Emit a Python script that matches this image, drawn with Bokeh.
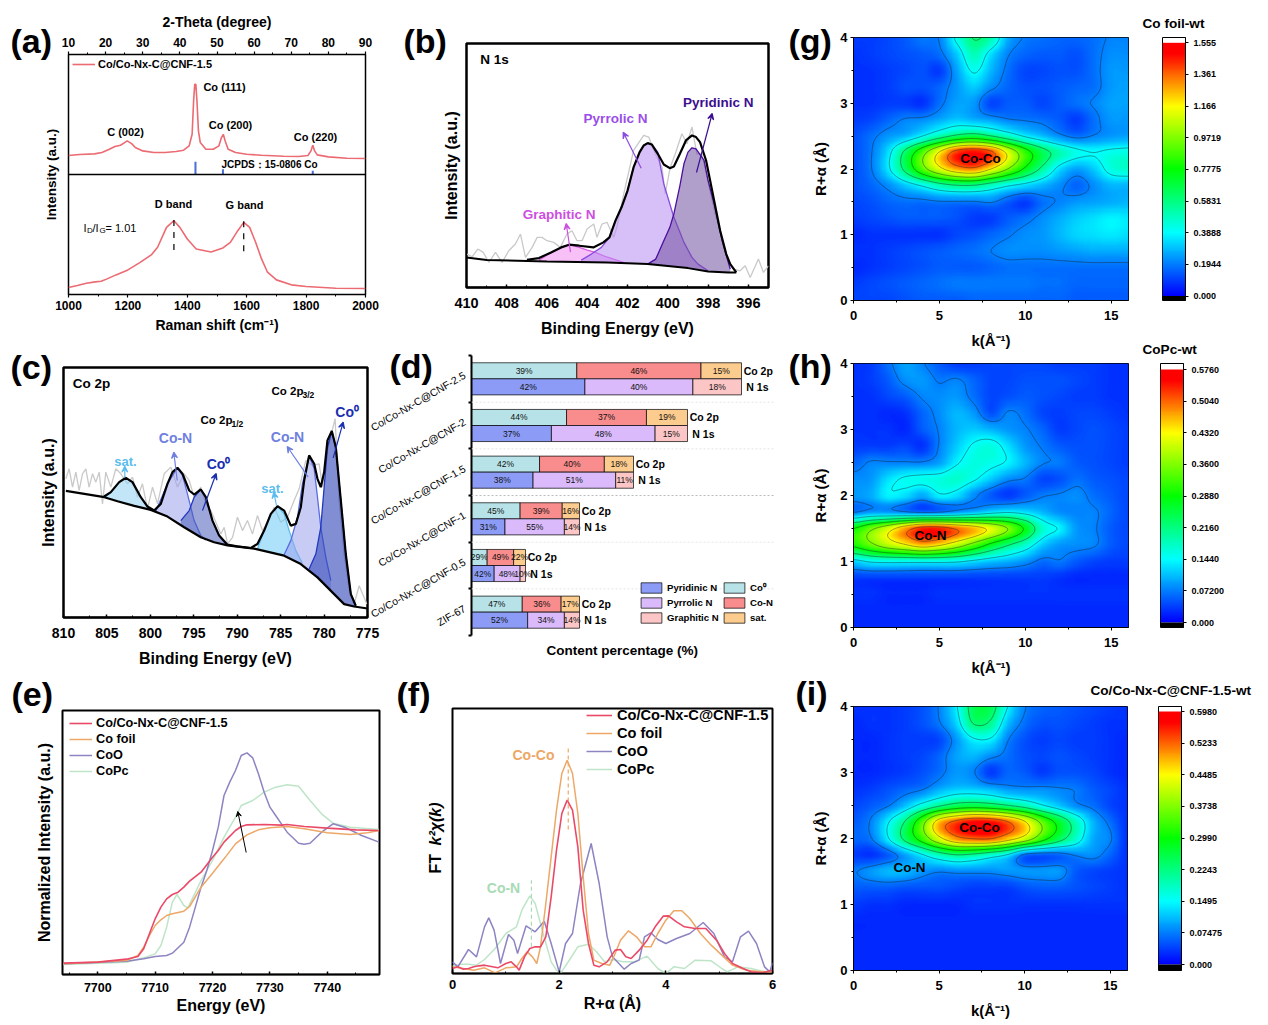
import math
import numpy as np
from bokeh.core.properties import value
from bokeh.embed import file_html
from bokeh.resources import INLINE
from bokeh.plotting import figure
from bokeh.layouts import column, row
from bokeh.models import (Range1d, LinearAxis, FixedTicker, Arrow, VeeHead, Span,
                          Legend, LegendItem, LinearColorMapper)

# ---------- panel (a) ----------
xrd_angle = [10,13,17,19,21,22.5,24,25,25.8,27,28,30,33,36,39,41,42.5,43.3,43.7,44,44.3,44.6,45,45.5,47,49,50.5,51.2,51.7,52.2,53,55,58,62,68,72,74.5,75.3,75.8,76.3,77,80,85,90]
xrd_int = [57,60,62,66,76,84,88,95,101,93,81,71,66,66,69,73,86,121,221,271,271,221,131,96,76,76,86,111,121,101,76,66,61,58,55,54,57,71,88,71,59,53,49,48]
jcpds_angle = [44.2,51.6,75.8]
jcpds_int = [38,16,11]
raman_shift = [1000,1030,1060,1090,1110,1130,1160,1200,1240,1280,1300,1330,1355,1375,1400,1430,1480,1520,1545,1570,1590,1610,1630,1650,1670,1700,1750,1800,1900,2000]
raman_int = [21,27,34,38,40,47,59,74,96,120,142,202,222,202,167,137,128,140,157,192,217,202,157,107,67,44,29,24,19,18]

# ---------- panel (b) ----------
n_noise_x = [409.97,409.72,409.44,409.17,408.89,408.56,408.23,407.9,407.57,407.32,407.07,406.74,406.49,406.25,406.0,405.67,405.34,405.01,404.76,404.51,404.26,404.01,403.68,403.52,403.27,403.02,402.69,402.53,402.19,401.7,401.2,400.95,400.62,400.29,400.13,399.88,399.63,399.3,399.05,398.8,398.56,398.31,397.98,397.65,397.32,396.99,396.74,396.41,396.16,395.91,395.5,395.25,395.0]
n_noise_y = [100,92,115,105,75,105,75,110,130,160,90,120,150,150,140,135,120,160,170,140,140,175,190,150,190,195,150,180,280,410,455,450,400,360,280,360,400,460,430,480,400,400,310,220,150,80,55,50,65,30,85,45,65]
n_base_x = [410,409,406,403,401,399,398,397,396.6]
n_base_y = [90,82,78,75,70,58,48,45,45]
n_env_x = [407,406.4,405.8,405.3,404.9,404.4,403.7,403.2,402.9,402.6,402.3,402,401.7,401.4,401.2,401,400.8,400.5,400.2,399.9,399.7,399.4,399.1,398.8,398.6,398.4,398.1,397.9,397.6,397.4,397.1,396.9,396.6]
n_env_y = [83,88,105,120,128,125,120,135,150,200,240,290,360,405,425,432,428,400,368,357,362,400,440,455,450,435,380,320,230,170,100,70,45]
pyridinic_x = [401,400.6,400.2,399.9,399.7,399.4,399.2,399,398.8,398.6,398.2,398,397.7,397.3,396.9]
pyridinic_y = [70,85,140,180,220,305,370,405,418,415,380,320,250,140,55]
pyrrolic_x = [404.3,403.8,403.3,402.9,402.6,402.3,402,401.7,401.4,401.2,401,400.8,400.5,400.2,399.9,399.7,399.4,399.2,398.8,398.5,398]
pyrrolic_y = [82,100,120,150,200,240,290,360,405,425,432,428,405,310,250,210,165,135,90,70,50]
graphitic_x = [406.4,405.8,405.3,404.9,404.4,404,403.6,403.2,402.7,402.2]
graphitic_y = [82,105,120,128,120,112,105,95,85,75]

# ---------- panel (c) ----------
co_noise_x = [809.73,809.35,808.96,808.58,808.2,807.81,807.43,807.05,806.66,806.28,805.89,805.51,805.13,804.55,803.98,803.4,802.63,802.06,801.48,800.91,800.33,799.75,799.18,798.41,797.64,796.88,796.11,795.53,794.96,794.19,793.61,793.04,792.46,791.89,791.5,791.12,790.54,789.97,789.39,788.82,788.24,787.67,787.09,786.52,785.75,784.98,784.21,783.45,782.87,782.1,781.34,780.57,780.18,779.61,778.73,778.27,777.69,777.11,776.54,775.96,775.39,775.08]
co_noise_y = [415,445,390,435,380,430,445,390,430,405,435,340,435,390,445,430,400,420,360,400,325,390,340,430,450,390,430,410,360,390,340,320,285,250,270,220,240,300,260,290,250,305,260,285,330,285,300,350,385,470,455,460,390,500,595,350,190,85,40,95,60,40]
co_base_x = [809.73,807.6,805.3,803.78,801.86,799.95,798.03,796.11,794.19,792.66,791.12,788.05,784.6,782.68,780.76,778.84,777.69,776.54,775]
co_base_y = [379,370,360,348,334,322,302,270,240,225,216,206,185,160,120,70,40,33,27]
co_env_x = [805.32,804.55,803.59,802.82,802.06,801.1,800.33,799.56,798.8,798.03,797.45,796.88,796.3,795.53,794.96,794.19,793.61,792.85,792.08,791.12,790,788.43,787.67,786.9,786.13,785.36,784.6,783.83,783.25,782.68,782.29,781.72,781.14,780.76,780.38,779.99,779.61,779.11,778.65,778.07,777.5,776.92,776.35]
co_env_y = [362,375,405,418,405,360,332,320,340,400,435,448,430,380,368,383,360,290,245,218,213,208,220,260,310,333,320,275,280,330,410,485,460,415,390,435,530,558,510,350,190,70,35]
sat1_x = [805.13,804.55,803.59,802.82,802.06,801.1,800.14]
sat1_y = [362,375,405,418,405,360,325]
con1_x = [799.37,798.03,796.88,796.3,795.73,794.96,794.19,793.61]
con1_y = [318,400,448,425,370,290,245,232]
co01_x = [796.49,795.53,794.96,794.19,793.61,792.85,792.08,791.31]
co01_y = [290,320,360,383,360,290,245,220]
sat2_x = [787.67,786.9,786.13,785.36,784.6,784.02,783.25,782.49]
sat2_y = [205,260,310,333,310,260,200,162]
con2_x = [784.6,783.83,783.06,782.49,781.72,781.14,780.76,780.38,779.8,779.22]
con2_y = [188,230,300,400,485,445,360,270,180,110]
co02_x = [781.72,780.95,780.38,779.99,779.61,779.11,778.65,778.07,777.5,776.92,776.35]
co02_y = [145,190,270,390,510,558,510,350,190,70,35]

# ---------- panel (d) ----------
samples = ["Co/Co-Nx-C@CNF-2.5","Co/Co-Nx-C@CNF-2","Co/Co-Nx-C@CNF-1.5","Co/Co-Nx-C@CNF-1","Co/Co-Nx-C@CNF-0.5","ZIF-67"]
total_scale = [5,4,3,2,1,2]
co0_pct = [39,44,42,45,29,47]
con_pct = [46,37,40,39,49,36]
sat_pct = [15,19,18,16,22,17]
pyridinic_pct = [42,37,38,31,42,52]
pyrrolic_pct = [40,48,51,55,48,34]
graphitic_pct = [18,15,11,14,10,14]

# ---------- panel (e) ----------
e_red_x = [7694,7700,7705,7707,7708,7709,7710,7711,7712,7713,7714,7715,7716,7718,7720,7721,7722,7724,7725,7726,7729,7732,7733,7736,7740,7745,7749]
e_red_y = [34,37,46,54,77,122,167,202,227,240,247,262,280,307,352,372,397,432,444,449,450,448,450,444,439,434,432]
e_or_x = [7694,7705,7707,7708,7709,7710,7711,7712,7713,7715,7716,7718,7720,7722,7724,7726,7728,7730,7733,7736,7740,7744,7747,7749]
e_or_y = [32,42,57,82,117,147,164,177,182,190,204,262,304,347,392,419,434,440,444,437,425,420,425,432]
e_pu_x = [7694,7705,7708,7710,7712,7713,7715,7716,7717,7718,7719,7720,7721,7722,7723,7724,7725,7726,7727,7728,7729,7730,7731,7733,7735,7736,7737,7739,7741,7743,7746,7749]
e_pu_y = [32,40,47,54,57,64,97,142,202,262,312,372,442,537,577,612,657,665,650,602,547,502,477,427,394,391,394,427,452,442,417,397]
e_gr_x = [7694,7705,7708,7710,7711,7712,7713,7713.8,7715,7715.7,7718,7720,7722,7724,7725,7727,7729,7731,7733,7735,7737,7739,7741,7744,7749]
e_gr_y = [30,37,50,62,87,142,217,240,207,200,282,342,412,472,507,522,547,562,569,565,522,482,454,442,435]

# ---------- panel (f) ----------
f_red_x = [0,.1,.2,.3,.4,.5,.6,.7,.85,1.0,1.1,1.2,1.25,1.35,1.45,1.55,1.65,1.75,1.85,1.95,2.05,2.15,2.25,2.35,2.45,2.55,2.65,2.75,2.9,3.05,3.15,3.25,3.35,3.5,3.65,3.8,3.95,4.05,4.2,4.35,4.55,4.75,4.95,5.1,5.25,5.45,5.6,5.8,6]
f_red_y = [15,20,13,15,20,23,25,22,17,30,35,20,10,50,75,80,80,110,230,370,480,520,490,380,190,90,25,20,35,70,72,50,45,70,100,140,172,173,155,140,135,135,100,60,30,15,5,2,10]
f_or_x = [0,.2,.4,.6,.8,1,1.2,1.3,1.4,1.5,1.58,1.65,1.75,1.85,1.95,2.05,2.15,2.25,2.35,2.45,2.55,2.65,2.8,2.95,3.05,3.15,3.3,3.45,3.6,3.72,3.85,4.0,4.15,4.3,4.45,4.65,4.85,5.05,5.25,5.5,5.7,6]
f_or_y = [20,15,10,17,2,17,20,45,65,50,30,80,210,350,490,600,640,600,480,290,120,40,30,25,60,100,128,110,80,80,120,160,188,188,165,120,85,55,25,10,7,3]
f_pu_x = [0,.1,.3,.45,.6,.68,.78,.9,1.05,1.15,1.22,1.38,1.55,1.72,1.85,2.0,2.12,2.25,2.4,2.6,2.75,2.9,3.0,3.15,3.22,3.35,3.5,3.6,3.72,3.85,4.0,4.2,4.45,4.7,4.9,5.1,5.25,5.4,5.55,5.7,5.85,5.95,6.0]
f_pu_y = [35,20,72,50,140,167,130,30,117,100,60,143,125,157,90,5,90,120,270,390,270,110,50,25,13,30,40,110,122,102,90,105,120,153,120,50,35,110,127,90,20,5,32]
f_gr_x = [0,.15,.3,.45,.6,.8,1,1.2,1.3,1.45,1.55,1.7,1.85,1.95,2.03,2.15,2.35,2.55,2.7,2.85,3.0,3.2,3.4,3.65,3.85,4.0,4.15,4.35,4.55,4.85,5.05,5.15,5.35,5.6,5.8,6]
f_gr_y = [22,28,28,25,42,75,120,140,190,233,210,120,35,10,2,30,80,88,65,35,42,35,35,52,15,0,20,15,40,38,15,5,20,15,7,5]

# ---------- wavelet maps: percent of colour-bar maximum, read at k = 0..16, R = 4.0 down to 0 in 0.25 steps ----------
map_g = [
[6,6,7,9,12,13,27,38,33,17,12,11,10,10,11,13,13],
[5,6,7,8,9,11,20,32,22,13,10,9,9,8,11,14,14],
[5,5,6,7,8,6,16,26,18,11,7,7,8,8,11,15,15],
[5,5,6,8,8,10,15,20,14,10,8,8,9,10,11,15,16],
[5,5,6,6,5,11,16,15,7,9,9,7,9,11,13,16,16],
[6,7,10,13,14,17,20,18,16,13,12,11,9,6,11,15,15],
[8,11,15,18,25,33,40,43,38,31,24,19,14,11,13,15,16],
[8,12,22,40,58,76,92,96,90,72,55,42,33,27,25,27,28],
[8,12,23,40,58,72,82,85,75,62,48,35,22,16,20,28,30],
[8,10,14,20,26,33,37,37,32,26,22,18,14,10,14,18,18],
[7,8,10,11,11,12,12,12,13,9,6,11,13,15,16,17,18],
[6,7,8,9,9,9,8,6,6,9,11,14,17,20,22,24,23],
[4,5,5,5,5,5,7,8,10,12,14,15,18,21,22,23,22],
[5,5,6,7,8,9,10,11,12.5,14,14,14,15,16,17,17,17],
[4,5,6,7,8,9,9,9,10,11,11,11,11,11,11,11,11],
[6,7,8,9,10,11,12,12,12,12,12,11,11,10,10,10,10],
[7,7,7,8,9,9,9,10,10,10,10,10,10,9,9,9,9]]
map_h = [
[5,6,11,16,13,9,6,6,7,7,7,7,6,6,6,5,5],
[5,6,9,14,15,12,13,10,7,7,8,8,8,7,6,5,5],
[5,5,7,9,13,14,15,11,7,8,9,8,7,6,6,5,5],
[5,5,4,5,10,14,18,15,8,13,11,7,6,7,7,6,5],
[5,5,5,4,9,13,18,20,18,15,13,10,6,7,8,7,6],
[6,6,6,7,5,13,20,26,28,22,15,12,9,8,8,7,6],
[10,13,13,13,13,16,24,28,27,24,18,13,12,9,8,7,6],
[14,15,22,26,27,28,30,26,20,14,12,7,8,11,9,8,7],
[15,17,24,22,17,24,22,14,9,6,9,12,13,14,11,9,7],
[12,15,15,13,11,12,15,18,22,24,22,18,14,13,13,10,7],
[50,60,70,82,92,92,86,80,72,62,48,30,24,15,13,9,7],
[52,60,68,74,80,76,68,58,47,38,30,20,15,14,13,9,7],
[22,26,27,27,27,27,26,23,20,18,15,11,12,9,7,6,6],
[6,6,6,6,6,6,6,6,6,6,6,6,5,4,4,4,4],
[5,5,4,4,4,5,5,5,5,5,5,5,5,5,5,5,5],
[4,4,4,4,4,4,4,4,4,4,4,4,4,4,4,4,4],
[4,4,4,4,4,4,4,4,4,4,4,4,4,4,4,4,4]]
map_i = [
[5,5,5,6,8,13,24,42,42,25,13,10,9,8,7,6,5],
[4,5,5,6,8,12,21,38,36,19,11,8,8,7,6,5,5],
[4,4,5,6,6,7,15,24,24,13,8,6,7,6,6,5,4],
[4,4,5,6,7,10,16,18,14,11,8,7,8,7,6,5,4],
[4,4,5,6,8,11,15,13,6,10,9,6,8,8,7,5,4],
[5,6,8,10,12,17,20,20,18,15,14,14,13,12,9,7,5],
[7,9,12,19,28,36,42,44,42,38,33,26,20,14,11,7,5],
[9,13,24,38,58,80,90,96,95,88,76,60,46,32,18,11,5],
[10,12,24,40,55,72,84,88,88,80,70,55,42,30,17,13,5],
[6,5,9,16,24,32,37,35,30,24,11,9,10,13,14,10,5],
[12,15,18,18,15,13,14,14,14,15,15,15,15,9,7,6,5],
[9,9,9,8,8,8,7,6,6,6,8,9,9,8,7,6,5],
[6,5,5,4,4,4,4,5,5,5,5,5,5,5,5,5,5],
[4,4,4,4,4,4,4,4,4,4,4,4,4,4,4,4,4],
[4,4,4,4,4,4,4,4,4,4,4,4,4,4,4,4,4],
[4,4,4,4,4,4,4,4,4,4,4,4,4,4,4,4,4],
[4,4,4,4,4,4,4,4,4,4,4,4,4,4,4,4,4]]
contour_levels = [12.5,25,37.5,50,62.5,75,87.5]
cb_g_ticks = [0,.1944,.3888,.5831,.7775,.9719,1.166,1.361,1.555]
cb_g_labels = ["0.000","0.1944","0.3888","0.5831","0.7775","0.9719","1.166","1.361","1.555"]
cb_h_ticks = [0,.072,.144,.216,.288,.36,.432,.504,.576]
cb_h_labels = ["0.000","0.07200","0.1440","0.2160","0.2880","0.3600","0.4320","0.5040","0.5760"]
cb_i_ticks = [0,.07475,.1495,.2243,.299,.3738,.4485,.5233,.598]
cb_i_labels = ["0.000","0.07475","0.1495","0.2243","0.2990","0.3738","0.4485","0.5233","0.5980"]

FONT = "Liberation Sans"
FR = {}
cells = []


def place(p, x0, y0):
    # each figure sits in its own absolutely placed row, so no frames get aligned across panels
    cells.append(row(p, styles={"position": "absolute", "left": f"{x0}px", "top": f"{y0}px"}))


def fig(box, frame, xr, yr, **kw):
    x0, y0, x1, y1 = box
    l, t, r, b = frame
    p = figure(width=x1 - x0, height=y1 - y0, frame_width=r - l, frame_height=b - t,
               min_border_left=l - x0, min_border_right=x1 - r, min_border_top=t - y0, min_border_bottom=y1 - b,
               x_range=xr, y_range=yr, output_backend="svg", toolbar_location=None, **kw)
    place(p, x0, y0)
    p.border_fill_color = None
    p.grid.visible = False
    p.outline_line_color = "black"
    FR[id(p)] = frame
    return p


# transparent page-sized layer in page pixels, for panel letters, titles and callouts
overlay = figure(width=1252, height=1009, x_range=Range1d(8, 1260), y_range=Range1d(1017, 8), min_border=0,
                 output_backend="svg", toolbar_location=None)
overlay.axis.visible = False
overlay.grid.visible = False
overlay.outline_line_color = None
overlay.border_fill_color = None
overlay.background_fill_color = None


def note(px, py, text, size=13, color="black", style="bold", align="center", angle=0, font=FONT):
    overlay.text(x=[px], y=[py], text=[text], text_font=value(font), text_font_size=value(f"{size}px"),
                 text_font_style=style, text_color=color, text_align=align, text_baseline="middle", angle=angle)


def arrow(a, b_, color, width=1.2, size=6):
    overlay.add_layout(Arrow(end=VeeHead(size=size, line_color=color, line_width=width, fill_color=color),
                             x_start=a[0], y_start=a[1], x_end=b_[0], y_end=b_[1], line_color=color, line_width=width))


def axis_style(ax, size, ticks=None, minor=None, label=None, label_size=16, standoff=6, tick_in=3, tick_out=0,
               width=1.5, label_standoff=3):
    ax.major_label_text_font = FONT
    ax.major_label_text_font_style = "bold"
    ax.major_label_text_font_size = f"{size}px"
    ax.major_label_text_color = "black"
    ax.major_label_standoff = label_standoff
    ax.axis_line_color = "black"
    ax.axis_line_width = width
    ax.major_tick_line_color = "black"
    ax.minor_tick_line_color = "black"
    ax.major_tick_line_width = width
    ax.minor_tick_line_width = 1
    ax.major_tick_in = tick_in
    ax.major_tick_out = tick_out
    ax.minor_tick_in = max(tick_in - 1, 0)
    ax.minor_tick_out = max(tick_out - 1, 0)
    ax.ticker = FixedTicker(ticks=ticks or [], minor_ticks=minor or [])
    if label is not None:
        ax.axis_label = label
        ax.axis_label_text_font = FONT
        ax.axis_label_text_font_style = "bold"
        ax.axis_label_text_font_size = f"{label_size}px"
        ax.axis_label_text_color = "black"
        ax.axis_label_standoff = standoff


def legend(p, items, px, py_bottom, size, glyph_w, spacing=2, standoff=5, gh=14):
    l, t, r, b = FR[id(p)]
    lg = Legend(items=[LegendItem(label=k, renderers=[v]) for k, v in items],
                location=(px - l, b - py_bottom), background_fill_alpha=0, border_line_alpha=0,
                padding=0, margin=0, spacing=spacing, glyph_width=glyph_w, glyph_height=gh, label_height=gh,
                label_standoff=standoff, label_text_font=FONT, label_text_font_size=f"{size}px",
                label_text_font_style="bold", label_text_color="black", label_text_line_height=1.0)
    p.add_layout(lg)


def filled(p, xs, ys, bx, by, fill, line, alpha=0.55, lw=1.3):
    order = np.argsort(bx)
    base = np.interp(xs, np.array(bx)[order], np.array(by)[order])
    p.varea(x=xs, y1=base, y2=ys, fill_color=fill, fill_alpha=alpha)
    p.line(xs, ys, line_color=line, line_width=lw)


# ---------- (a) ----------
pa = fig((8, 8, 390, 338), (68, 54, 365, 294), Range1d(1000, 2000), Range1d(0, 722),
         extra_x_ranges={"xrd": Range1d(10, 90)}, extra_y_ranges={"xrd": Range1d(-361, 361)})
pa.outline_line_width = 1.5
red_a = "#ec6a72"
xrd_line = pa.line(xrd_angle, xrd_int, x_range_name="xrd", y_range_name="xrd", line_color=red_a, line_width=1.6)
pa.vbar(x=jcpds_angle, width=0.55, bottom=0, top=jcpds_int, x_range_name="xrd", y_range_name="xrd",
        fill_color="#4a6fd6", line_color=None)
pa.line(raman_shift, raman_int, line_color=red_a, line_width=1.6)
pa.add_layout(Span(location=361, dimension="width", line_color="black", line_width=1.5))
pa.line([1355, 1355], [134, 240], line_color="black", line_width=1.2, line_dash="6 6")
pa.line([1590, 1590], [130, 237], line_color="black", line_width=1.2, line_dash="6 6")
top_axis = LinearAxis(x_range_name="xrd")
pa.add_layout(top_axis, "above")
axis_style(top_axis, 12, list(range(10, 91, 10)), list(range(15, 90, 10)), "2-Theta (degree)", 14, 5, 0, 3, 1.2, label_standoff=5)
axis_style(pa.below[0], 12, list(range(1000, 2001, 200)), list(range(1100, 2000, 200)), "Raman shift (cm⁻¹)", 14, 4, 0, 3, 1.2)
axis_style(pa.left[0], 12, [], [], "Intensity (a.u.)", 13.5, 10, 0, 0, 0)
legend(pa, [("Co/Co-Nx-C@CNF-1.5", xrd_line)], 72, 71, 11, 23, spacing=0, standoff=3)
note(10, 40, "(a)", 34, align="left")
note(224, 86, "Co (111)", 11)
note(230, 124, "Co (200)", 11)
note(125, 131, "C (002)", 11)
note(315, 136, "Co (220)", 11)
note(269, 163.5, "JCPDS：15-0806 Co", 10)
note(173, 203, "D band", 11)
note(244, 204, "G band", 11)
note(83, 227, "I", 11, align="left", style="normal")
note(86.5, 230, "D", 8, align="left", style="normal")
note(92, 227, "/I", 11, align="left", style="normal")
note(99, 230, "G", 8, align="left", style="normal")
note(105, 227, "= 1.01", 11, align="left", style="normal")

# ---------- (b) ----------
pb = fig((395, 8, 785, 338), (466, 43, 768, 287), Range1d(410, 395), Range1d(0, 730))
pb.outline_line_width = 2.5
axis_style(pb.below[0], 14.5, list(range(396, 411, 2)), list(range(397, 410, 2)), "Binding Energy (eV)", 16, 9, 3, 0, 1.5, label_standoff=10)
axis_style(pb.left[0], 12, [], [], "Intensity (a.u.)", 16, 7, 0, 0, 0)
pb.line(n_noise_x, n_noise_y, line_color="#c9c9c9", line_width=1.3)
filled(pb, graphitic_x, graphitic_y, n_base_x, n_base_y, "#f08cf0", "#d85de0")
filled(pb, pyrrolic_x, pyrrolic_y, n_base_x, n_base_y, "#b78af0", "#8a4be0")
filled(pb, pyridinic_x, pyridinic_y, n_base_x, n_base_y, "#6f4ea0", "#4b0f9e")
pb.line(n_base_x, n_base_y, line_color="black", line_width=2)
pb.line(n_env_x, n_env_y, line_color="black", line_width=2.2)
arrow((696, 172), (711.7, 113), "#3b0f8f")
arrow((640.7, 167.7), (622.7, 131.7), "#8a4be0")
arrow((570, 251.7), (565.7, 223), "#cc4fe0")
note(403, 40, "(b)", 34, align="left")
note(494, 59, "N 1s", 13.5)
note(717.7, 102, "Pyridinic N", 13.5, "#3b0f8f")
note(615, 118, "Pyrrolic N", 13.5, "#9a4ee8")
note(558.7, 214, "Graphitic N", 13.5, "#cc4fe0")

# ---------- (c) ----------
pc = fig((8, 338, 390, 668), (63, 367, 367, 617), Range1d(810, 775), Range1d(0, 748))
pc.outline_line_width = 2.5
axis_style(pc.below[0], 14, list(range(775, 811, 5)), list(range(777, 810, 5)), "Binding Energy (eV)", 16, 9, 3, 0, 1.5, label_standoff=10)
axis_style(pc.left[0], 12, [], [], "Intensity (a.u.)", 16, 7, 0, 0, 0)
pc.line(co_noise_x, co_noise_y, line_color="#c9c9c9", line_width=1.3)
filled(pc, sat1_x, sat1_y, co_base_x, co_base_y, "#8fd2f2", "#5dbcee")
filled(pc, con1_x, con1_y, co_base_x, co_base_y, "#9aa3ec", "#5a6de0")
filled(pc, co01_x, co01_y, co_base_x, co_base_y, "#4a5cb8", "#2238c0")
filled(pc, sat2_x, sat2_y, co_base_x, co_base_y, "#6cc8f5", "#5dbcee")
filled(pc, con2_x, con2_y, co_base_x, co_base_y, "#9aa3ec", "#5a6de0")
filled(pc, co02_x, co02_y, co_base_x, co_base_y, "#2f42b8", "#2238c0", 0.6)
pc.line(co_base_x, co_base_y, line_color="black", line_width=2.2)
pc.line(co_env_x, co_env_y, line_color="black", line_width=2.2)
arrow((332.7, 457.3), (342.7, 421.7), "#1a2fb0")
arrow((307.7, 476.7), (286.7, 446), "#6f80e0")
arrow((276, 505), (273.3, 491.7), "#5dbcee")
arrow((202, 510), (215.7, 473), "#1a2fb0")
arrow((176.7, 480), (173.3, 451.7), "#6f80e0")
arrow((124.3, 477.3), (124.3, 465.7), "#5dbcee")
note(10, 366, "(c)", 34, align="left")
note(91, 383, "Co 2p", 13.5)
note(271, 390, "Co 2p", 11.5, align="left")
note(302, 394, "3/2", 8.5, align="left")
note(200, 419, "Co 2p", 11.5, align="left")
note(231, 423, "1/2", 8.5, align="left")
note(346.7, 411, "Co⁰", 14, "#1a2fb0")
note(287, 436, "Co-N", 14, "#6f80e0")
note(272, 488, "sat.", 13, "#5dbcee")
note(218, 463, "Co⁰", 14, "#1a2fb0")
note(175, 437, "Co-N", 14, "#6f80e0")
note(125, 460.7, "sat.", 13, "#5dbcee")

# ---------- (d) ----------
unit_px = 54.0
pd_ = fig((340, 338, 785, 668), (471, 355, 775, 635), Range1d(0, 304 / unit_px * 100), Range1d(0, 6))
pd_.outline_line_color = None
pd_.xaxis.visible = False
yax = pd_.left[0]
sample_ticks = [5.6, 4.6, 3.6, 2.6, 1.6, 0.6]
axis_style(yax, 10.5, sample_ticks, list(range(7)), None, tick_in=0, tick_out=0, width=2)
yax.major_label_text_font_style = "normal"
yax.major_tick_line_color = None
yax.minor_tick_line_width = 2
yax.minor_tick_out = 3
yax.major_label_orientation = math.radians(30)
yax.major_label_overrides = dict(zip(sample_ticks, samples))
yax.major_label_standoff = 4
for i in range(1, 6):
    pd_.add_layout(Span(location=i, dimension="width", line_color="#e3e3e3" if i != 3 else "#bbbbbb",
                        line_width=1, line_dash="2 2"))

bar_h = 0.344
centres = np.array([5.5 - i for i in range(6)])
scale = np.array(total_scale)
tag = {"Co0": "Co 2p", "Pyridinic N": "N 1s"}
def stack(series, y, colors, names, side):
    left = np.zeros(6)
    rs = {}
    for vals, col, name in zip(series, colors, names):
        right = left + np.array(vals) * scale
        r = pd_.hbar(y=y, left=left, right=right, height=bar_h, fill_color=col, line_color="black", line_width=0.7)
        rs[name] = r
        left = right
        pd_.text(x=right - np.array(vals) * scale / 2, y=y, text=[f"{v}%" for v in vals], text_align="center",
                 text_baseline="middle", text_font_size="8.5px", text_color="#111111")
    pd_.text(x=left + side, y=y, text=[tag[names[0]]] * 6, text_align="left", text_baseline="middle",
             text_font_size="10.5px", text_font_style="bold", text_color="black")
    return rs
co_r = stack([co0_pct, con_pct, sat_pct], centres + bar_h / 2, ["#b7e3e8", "#f98c8c", "#fccb8e"], ["Co0", "Co-N", "sat."], 4)
n_r = stack([pyridinic_pct, pyrrolic_pct, graphitic_pct], centres - bar_h / 2, ["#8c9cf6", "#dabafa", "#fcc6c6"],
            ["Pyridinic N", "Pyrrolic N", "Graphitic N"], 9)
legend(pd_, [(k, n_r[k]) for k in ["Pyridinic N", "Pyrrolic N", "Graphitic N"]], 638, 624, 9.6, 26, spacing=2, standoff=3, gh=13)
legend(pd_, [("Co⁰", co_r["Co0"]), ("Co-N", co_r["Co-N"]), ("sat.", co_r["sat."])], 721, 624, 9.6, 26, spacing=2, standoff=3, gh=13)
note(389, 365, "(d)", 34, align="left")
note(621.7, 650, "Content percentage (%)", 13.5)

# ---------- (e) ----------
pe = fig((8, 668, 390, 1017), (62, 710, 379, 974), Range1d(7693.85, 7749.1), Range1d(0, 792))
pe.outline_line_width = 2
axis_style(pe.below[0], 12.5, [7700, 7710, 7720, 7730, 7740], [7695, 7705, 7715, 7725, 7735, 7745], "Energy (eV)", 16, 2, 3, 0, 1.5, label_standoff=8)
axis_style(pe.left[0], 12, [], [], "Normalized Intensity (a.u.)", 16, 10, 0, 0, 0)
C_RED, C_OR, C_PU, C_GR = "#ea4a68", "#eda766", "#8d84c2", "#bfe5c8"
e_g = pe.line(e_gr_x, e_gr_y, line_color=C_GR, line_width=1.5)
e_p = pe.line(e_pu_x, e_pu_y, line_color=C_PU, line_width=1.5)
e_o = pe.line(e_or_x, e_or_y, line_color=C_OR, line_width=1.5)
e_r = pe.line(e_red_x, e_red_y, line_color=C_RED, line_width=1.6)
arrow((245.7, 852), (237.3, 811), "black", 1, 5)
legend(pe, [("Co/Co-Nx-C@CNF-1.5", e_r), ("Co foil", e_o), ("CoO", e_p), ("CoPc", e_g)], 69, 778, 12.7, 23, spacing=2, standoff=4, gh=14)
note(11, 693, "(e)", 34, align="left")

# ---------- (f) ----------
pf = fig((395, 668, 785, 1017), (452, 708, 772, 973), Range1d(0, 6), Range1d(0, 795))
pf.outline_line_width = 2
axis_style(pf.below[0], 13, [0, 2, 4, 6], [1, 3, 5], "R+α (Å)", 16, 3, 3, 0, 1.5, label_standoff=6)
axis_style(pf.left[0], 12, [], [], None, tick_in=0, tick_out=0, width=0)
f_g = pf.line(f_gr_x, f_gr_y, line_color=C_GR, line_width=1.5)
f_p = pf.line(f_pu_x, f_pu_y, line_color=C_PU, line_width=1.5)
f_o = pf.line(f_or_x, f_or_y, line_color=C_OR, line_width=1.5)
f_r = pf.line(f_red_x, f_red_y, line_color=C_RED, line_width=1.6)
pf.line([2.17, 2.17], [432, 682], line_color=C_OR, line_width=1.2, line_dash="4 3")
pf.line([1.48, 1.48], [80, 280], line_color="#a8dbb5", line_width=1.2, line_dash="4 3")
legend(pf, [("Co/Co-Nx-C@CNF-1.5", f_r), ("Co foil", f_o), ("CoO", f_p), ("CoPc", f_g)], 586, 777, 14.6, 26, spacing=2, standoff=5, gh=14)
note(396, 693, "(f)", 34, align="left")
note(533, 754, "Co-Co", 14, C_OR)
note(503, 887, "Co-N", 14, "#a8dbb5")
note(435, 873, "FT", 16, align="left", angle=math.pi / 2)
note(435, 845, "k²χ(k)", 16, align="left", angle=math.pi / 2, style="bold italic")

# ---------- wavelet maps ----------
stops = [(0, (0, 0, 255)), (.25, (0, 255, 255)), (.5, (0, 255, 0)), (.75, (255, 255, 0)), (.96, (255, 0, 0)), (1, (255, 0, 0))]
palette = []
for i in range(256):
    t = i / 255
    for (t0, c0), (t1, c1) in zip(stops, stops[1:]):
        if t <= t1:
            f_ = (t - t0) / (t1 - t0)
            palette.append("#%02x%02x%02x" % tuple(int(a + (b - a) * f_) for a, b in zip(c0, c1)))
            break
mapper = LinearColorMapper(palette=palette, low=0, high=100)


def resample(a, n):
    # Cubic resampling of the hand-read grid, for a smooth drawing of the same field.
    a = np.asarray(a, float)
    m = a.shape[0]
    pos = np.linspace(0, m - 1, n)
    i = np.clip(np.floor(pos).astype(int), 0, m - 2)
    t = (pos - i)[:, None]
    p0 = a[np.clip(i - 1, 0, m - 1)]
    p1 = a[i]
    p2 = a[i + 1]
    p3 = a[np.clip(i + 2, 0, m - 1)]
    return 0.5 * (2 * p1 + (p2 - p0) * t + (2 * p0 - 5 * p1 + 4 * p2 - p3) * t ** 2 + (3 * p1 - p0 - 3 * p2 + p3) * t ** 3)


def wavelet(box, frame, grid):
    p = fig(box, frame, Range1d(0, 16), Range1d(0, 4))
    p.outline_line_width = 1
    z = np.array(grid, float)[::-1]
    z = resample(resample(z, 241).T, 321).T
    z = np.clip(z, 0.5, 100)
    p.image(image=[z], x=0, y=0, dw=16, dh=4, color_mapper=mapper)
    xs = np.linspace(0, 16, z.shape[1])
    ys = np.linspace(0, 4, z.shape[0])
    p.contour(xs, ys, z, contour_levels, line_color="#222222", line_width=0.6, line_alpha=0.75)
    axis_style(p.below[0], 13, [0, 5, 10, 15], [2.5, 7.5, 12.5], "k(Å⁻¹)", 15, 9, 0, 3, 1, label_standoff=7)
    axis_style(p.left[0], 13, [0, 1, 2, 3, 4], [.5, 1.5, 2.5, 3.5], "R+α (Å)", 15, 8, 0, 3, 1)
    return p


def cbar(box, frame, y0_px, ymax_px, ticks, labels, title, tx, ty):
    l, t, r, b = frame
    vmax = ticks[-1]
    per = vmax / (y0_px - ymax_px)
    lo = -(b - y0_px) * per
    hi = vmax + (ymax_px - t) * per
    p = fig(box, frame, Range1d(0, 1), Range1d(lo, hi))
    p.outline_line_width = 1
    p.xaxis.visible = False
    p.left[0].visible = False
    grad = np.linspace(0, 100, 256)[:, None]
    p.image(image=[grad], x=0, y=0, dw=1, dh=vmax, color_mapper=mapper)
    p.quad(left=0, right=1, bottom=lo, top=0, fill_color="black", line_color=None)
    ax = LinearAxis()
    p.add_layout(ax, "right")
    axis_style(ax, 9, ticks, [], None, tick_in=0, tick_out=3, width=1, label_standoff=5)
    ax.major_label_overrides = dict(zip(ticks, labels))
    note(tx, ty, title, 13.6, align="left")
    return p


pg = wavelet((785, 8, 1135, 348), (853, 37, 1128, 300), map_g)
note(788, 40, "(g)", 34, align="left")
note(980, 158, "Co-Co", 13.5)
ph = wavelet((785, 340, 1135, 680), (853, 363, 1128, 627), map_h)
note(788, 365, "(h)", 34, align="left")
note(930, 535, "Co-N", 13.5)
pi_ = wavelet((785, 674, 1135, 1017), (853, 706, 1127, 970), map_i)
note(795, 692, "(i)", 34, align="left")
note(979, 827, "Co-Co", 13.5)
note(909, 867, "Co-N", 13.5)

cg = cbar((1135, 8, 1260, 340), (1162, 37, 1185, 300), 295.5, 42.3, cb_g_ticks, cb_g_labels, "Co foil-wt", 1142, 23)
ch = cbar((1135, 340, 1260, 667), (1160, 363, 1183, 627), 622, 369, cb_h_ticks, cb_h_labels, "CoPc-wt", 1142, 349)
ci = cbar((1135, 667, 1260, 1017), (1158, 706, 1181, 970), 964, 711, cb_i_ticks, cb_i_labels,
          "Co/Co-Nx-C@CNF-1.5-wt", 1090, 690)

place(overlay, 8, 8)
layout = column(*cells, width=1260, height=1017, sizing_mode="fixed")
open("out.html", "w").write(file_html(layout, INLINE))
